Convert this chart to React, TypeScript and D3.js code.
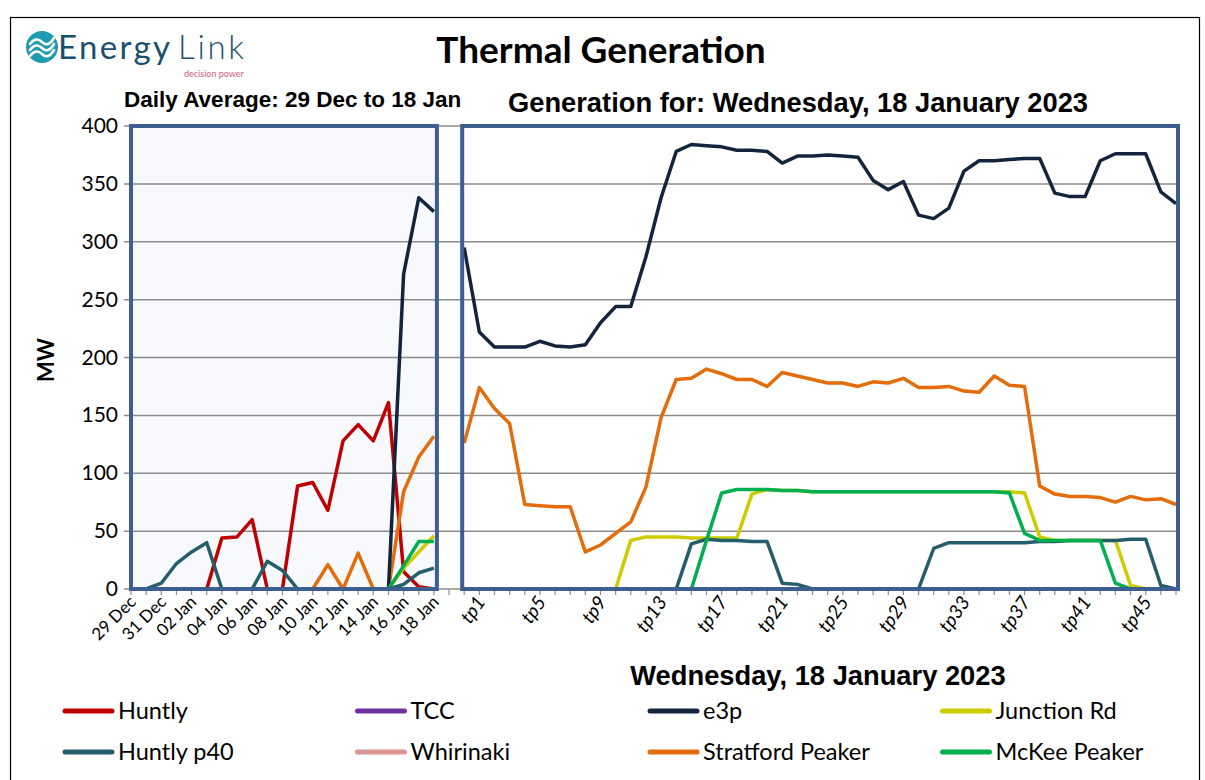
import React from 'react';
import * as d3 from 'd3';

// daily averages, 29 Dec .. 18 Jan
const days = [
  '29 Dec', '30 Dec', '31 Dec', '01 Jan', '02 Jan', '03 Jan', '04 Jan', '05 Jan', '06 Jan', '07 Jan', '08 Jan',
  '09 Jan', '10 Jan', '11 Jan', '12 Jan', '13 Jan', '14 Jan', '15 Jan', '16 Jan', '17 Jan', '18 Jan',
];
const huntlyDaily = [0, 0, 0, 0, 0, 0, 44, 45, 60, 0, 0, 89, 92, 68, 128, 142, 128, 161, 15, 2, 0];
const tccDaily = [0, 0, 0, 0, 0, 0, 0, 0, 0, 0, 0, 0, 0, 0, 0, 0, 0, 0, 0, 0, 0];
const e3pDaily = [0, 0, 0, 0, 0, 0, 0, 0, 0, 0, 0, 0, 0, 0, 0, 0, 0, 0, 272, 338, 326];
const junctionDaily = [0, 0, 0, 0, 0, 0, 0, 0, 0, 0, 0, 0, 0, 0, 0, 0, 0, 0, 18, 32, 46];
const huntlyP40Daily = [0, 0, 5, 22, 32, 40, 0, 0, 0, 24, 16, 0, 0, 0, 0, 0, 0, 0, 4, 14, 18];
const whirinakiDaily = [0, 0, 0, 0, 0, 0, 0, 0, 0, 0, 0, 0, 0, 0, 0, 0, 0, 0, 0, 0, 0];
const stratfordDaily = [0, 0, 0, 0, 0, 0, 0, 0, 0, 0, 0, 0, 0, 21, 0, 31, 0, 0, 84, 114, 132];
const mckeeDaily = [0, 0, 0, 0, 0, 0, 0, 0, 0, 0, 0, 0, 0, 0, 0, 0, 0, 0, 20, 41, 41];

// trading periods tp1..tp48 for Wednesday 18 Jan
const periods = d3.range(1, 49).map(k => `tp${k}`);
const huntlyTp = new Array(48).fill(0);
const tccTp = new Array(48).fill(0);
const whirinakiTp = new Array(48).fill(0);
const e3pTp = [295, 222, 209, 209, 209, 214, 210, 209, 211, 230, 244, 244, 287, 338, 378, 384, 383, 382, 379, 379, 378, 368, 374, 374,
  375, 374, 373, 353, 345, 352, 323, 320, 329, 361, 370, 370, 371, 372, 372, 342, 339, 339, 370, 376, 376, 376, 343, 333];
const stratfordTp = [126, 174, 156, 143, 73, 72, 71, 71, 32, 38, 48, 58, 88, 148, 181, 182, 190, 186, 181, 181, 175, 187, 184, 181,
  178, 178, 175, 179, 178, 182, 174, 174, 175, 171, 170, 184, 176, 175, 89, 82, 80, 80, 79, 75, 80, 77, 78, 73];
const junctionTp = [0, 0, 0, 0, 0, 0, 0, 0, 0, 0, 0, 42, 45, 45, 45, 44, 44, 44, 44, 82, 86, 85, 85, 84,
  84, 84, 84, 84, 84, 84, 84, 84, 84, 84, 84, 84, 84, 83, 45, 42, 42, 42, 42, 42, 3, 0, 0, 0];
const mckeeTp = [0, 0, 0, 0, 0, 0, 0, 0, 0, 0, 0, 0, 0, 0, 0, 0, 42, 83, 86, 86, 86, 85, 85, 84,
  84, 84, 84, 84, 84, 84, 84, 84, 84, 84, 84, 84, 83, 48, 42, 42, 42, 42, 42, 5, 0, 0, 0, 0];
const huntlyP40Tp = [0, 0, 0, 0, 0, 0, 0, 0, 0, 0, 0, 0, 0, 0, 0, 39, 43, 42, 42, 41, 41, 5, 4, 0,
  0, 0, 0, 0, 0, 0, 0, 35, 40, 40, 40, 40, 40, 40, 41, 41, 42, 42, 42, 42, 43, 43, 3, 0];

const yTicks = [0, 50, 100, 150, 200, 250, 300, 350, 400];

const colors: Record<string, string> = {
  'Huntly': '#c00000',
  'TCC': '#7030a0',
  'e3p': '#14243d',
  'Junction Rd': '#cccc00',
  'Huntly p40': '#255e6b',
  'Whirinaki': '#d99694',
  'Stratford Peaker': '#e46c0a',
  'McKee Peaker': '#00b050',
};
const legendRows = [
  ['Huntly', 'TCC', 'e3p', 'Junction Rd'],
  ['Huntly p40', 'Whirinaki', 'Stratford Peaker', 'McKee Peaker'],
];

// draw order matters: whatever sits at zero last is the colour you see on the base line
const dailySeries: [string, number[]][] = [
  ['TCC', tccDaily], ['Whirinaki', whirinakiDaily], ['Huntly', huntlyDaily], ['Stratford Peaker', stratfordDaily],
  ['e3p', e3pDaily], ['Junction Rd', junctionDaily], ['McKee Peaker', mckeeDaily], ['Huntly p40', huntlyP40Daily],
];
const tpSeries: [string, number[]][] = [
  ['Huntly', huntlyTp], ['TCC', tccTp], ['e3p', e3pTp], ['Junction Rd', junctionTp],
  ['Huntly p40', huntlyP40Tp], ['Whirinaki', whirinakiTp], ['Stratford Peaker', stratfordTp], ['McKee Peaker', mckeeTp],
];

const calibri = 'Lato, "Noto Sans", sans-serif';
const arial = '"Liberation Sans", Arial, sans-serif';

export default function App() {
  const width = 1205;
  const height = 780;
  const margin = { top: 126, left: 131, bottom: 589, right: 1176 };

  // one shared category axis: 21 days, a blank slot, 48 trading periods
  const nCats = days.length + 1 + periods.length;
  const x = d3.scaleLinear().domain([0, nCats - 1]).range([margin.left, margin.right]);
  const y = d3.scaleLinear().domain([0, 400]).range([margin.bottom, margin.top]);
  const tpOffset = days.length + 1;

  const line = d3.line<number>().x((_, i) => x(i)).y(d => y(d));
  const lineTp = d3.line<number>().x((_, i) => x(i + tpOffset)).y(d => y(d));

  const leftX0 = x(0);
  const leftX1 = x(days.length - 1) + 1;
  const rightX0 = x(tpOffset) - 2;
  const rightX1 = x(nCats - 1) + 2;

  return (
    <svg width={width} height={height} style={{ position: 'absolute', left: 0, top: 0, background: '#fff' }}>
      <rect x={10.5} y={17.5} width={1189} height={800} fill="#fff" stroke="#000" strokeWidth={1.2} />

      {/* logo */}
      <g>
        <circle cx={42} cy={47} r={16} fill="#1e9bb0" />
        {[-6, 0, 6].map(o => (
          <path key={o} d={`M${30} ${50 + o} q6 -8 12 -2 q6 6 12 -4`} fill="none" stroke="#fff" strokeWidth={2.6} strokeLinecap="round" />
        ))}
        <text x={58} y={59} fontFamily={calibri} fontSize={33} fill="#1b4f6e" textLength={112}>Energy</text>
        <text x={178} y={59} fontFamily={calibri} fontSize={33} fontWeight={300} fill="#1b4f6e" textLength={66}>Link</text>
        <text x={184} y={77} fontFamily={calibri} fontSize={9} fill="#d05a7c">decision power</text>
      </g>

      <text x={601} y={63} textAnchor="middle" fontFamily={calibri} fontWeight={700} fontSize={37}>Thermal Generation</text>
      <text x={124} y={107} fontFamily={arial} fontWeight={700} fontSize={22.5}>Daily Average: 29 Dec to 18 Jan</text>
      <text x={798} y={112} textAnchor="middle" fontFamily={arial} fontWeight={700} fontSize={27.3}>Generation for: Wednesday, 18 January 2023</text>

      {/* panels */}
      <rect x={leftX0} y={y(400)} width={leftX1 - leftX0} height={y(0) - y(400)} fill="#f7f9fc" />

      {/* grid + y axis */}
      {yTicks.map(t => (
        <g key={t}>
          <line x1={124} x2={rightX1} y1={y(t)} y2={y(t)} stroke="#8c8c8c" strokeWidth={1.5} />
          <text x={118} y={y(t) + 7} textAnchor="end" fontFamily={calibri} fontSize={21} fill="#000">{t}</text>
        </g>
      ))}
      <text transform={`translate(54,360) rotate(-90)`} textAnchor="middle" fontFamily={calibri} fontWeight={700} fontSize={22}>MW</text>

      {/* category ticks */}
      {d3.range(nCats).map(i => (
        <line key={i} x1={x(i)} x2={x(i)} y1={y(0)} y2={y(0) + 6} stroke="#8c8c8c" strokeWidth={1.2} />
      ))}

      {days.map((d, i) => (i % 2 === 0 ? (
        <text key={d} transform={`translate(${x(i) + 6},${y(0) + 14}) rotate(-45)`} textAnchor="end"
          fontFamily={calibri} fontSize={17}>{d}</text>
      ) : null))}
      {periods.map((p, i) => (i % 4 === 0 ? (
        <text key={p} transform={`translate(${x(i + tpOffset) + 22},${y(0) + 13}) rotate(-55)`} textAnchor="end"
          fontFamily={calibri} fontStyle="italic" fontSize={19}>{p}</text>
      ) : null))}

      <text x={818} y={685} textAnchor="middle" fontFamily={arial} fontWeight={700} fontSize={27.3}>Wednesday, 18 January 2023</text>

      {/* series */}
      <g fill="none" strokeWidth={3.5} strokeLinejoin="round">
        {dailySeries.map(([name, vals]) => (
          <path key={`d-${name}`} d={line(vals) || ''} stroke={colors[name]} />
        ))}
        {tpSeries.map(([name, vals]) => (
          <path key={`t-${name}`} d={lineTp(vals) || ''} stroke={colors[name]} />
        ))}
      </g>

      {/* panel borders */}
      <rect x={leftX0} y={y(400)} width={leftX1 - leftX0 + 2} height={y(0) - y(400)} fill="none" stroke="#3d5f8f" strokeWidth={4} />
      <rect x={rightX0} y={y(400)} width={rightX1 - rightX0} height={y(0) - y(400)} fill="none" stroke="#3d5f8f" strokeWidth={4} />

      {/* legend */}
      {legendRows.map((row, r) => row.map((name, c) => {
        const lx = 65 + c * 292.5;
        const ly = 711 + r * 41;
        return (
          <g key={name}>
            <line x1={lx} x2={lx + 47} y1={ly} y2={ly} stroke={colors[name]} strokeWidth={5} strokeLinecap="round" />
            <text x={lx + 53} y={ly + 8} fontFamily={calibri} fontSize={23.5}>{name}</text>
          </g>
        );
      }))}
    </svg>
  );
}
